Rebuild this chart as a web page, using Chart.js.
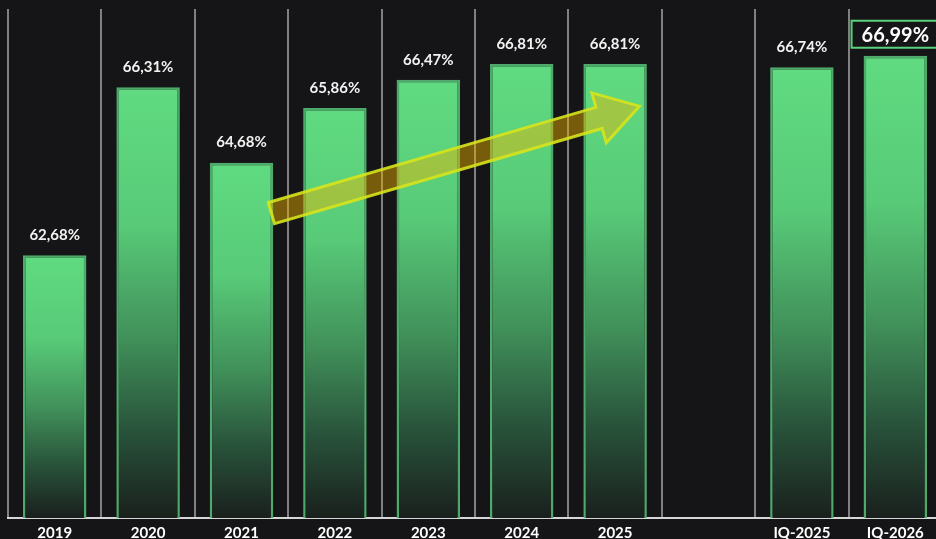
<!DOCTYPE html>
<html>
<head>
<meta charset="utf-8">
<script src="https://cdn.jsdelivr.net/npm/chart.js@4"></script>
<style>
  html, body { margin: 0; padding: 0; background: #151517; overflow: hidden; }
  #wrap { position: relative; width: 942px; height: 539px; }
</style>
</head>
<body>
<div id="wrap"><canvas id="chart"></canvas></div>
<script>
// Periods on the x axis (an empty slot separates the yearly and quarterly groups)
const categories = ['2019', '2020', '2021', '2022', '2023', '2024', '2025', '', 'IQ-2025', 'IQ-2026'];
// Share per period, in percent
const shares = [62.68, 66.31, 64.68, 65.86, 66.47, 66.81, 66.81, null, 66.74, 66.99];
// Period whose label gets a framed callout
const highlightIndex = 9;
// Value range of the hidden y axis
const yRange = [57, 68];
// Trend arrow: [category position, value] of its tail and tip
const trendTail = [2.32, 63.59];
const trendTip = [6.26, 65.90];

const FONT = 'Lato, "Open Sans", sans-serif';
const fmt = v => v.toFixed(2).replace('.', ',') + '%';

function barGradient(ctx) {
  const chart = ctx.chart;
  const v = ctx.raw;
  if (!chart.chartArea || v == null) return '#5ed97f';
  const y = chart.scales.y;
  const top = y.getPixelForValue(v);
  const bottom = y.getPixelForValue(yRange[0]);
  const g = chart.ctx.createLinearGradient(0, top, 0, bottom);
  g.addColorStop(0, '#60db81');
  g.addColorStop(0.32, '#58ca78');
  g.addColorStop(0.58, '#41915a');
  g.addColorStop(0.8, '#28523a');
  g.addColorStop(1, '#1a201d');
  return g;
}

// Semi-transparent trend arrow over the bars
const trendArrow = {
  id: 'trendArrow',
  afterDatasetsDraw(chart) {
    const { ctx, scales: { x, y } } = chart;
    const tx = x.getPixelForValue(trendTail[0]), ty = y.getPixelForValue(trendTail[1]);
    const px = x.getPixelForValue(trendTip[0]), py = y.getPixelForValue(trendTip[1]);
    const len = Math.hypot(px - tx, py - ty);
    const ux = (px - tx) / len, uy = (py - ty) / len;
    const nx = uy, ny = -ux;
    const shaftHalf = 11, headHalf = 26, headLen = 42;
    const pt = (along, side) => [tx + ux * along + nx * side, ty + uy * along + ny * side];
    const pts = [
      pt(0, shaftHalf),
      pt(len - headLen, shaftHalf),
      pt(len - headLen, headHalf),
      pt(len, 0),
      pt(len - headLen, -headHalf),
      pt(len - headLen, -shaftHalf),
      pt(0, -shaftHalf)
    ];
    ctx.save();
    ctx.beginPath();
    pts.forEach((p, i) => i ? ctx.lineTo(p[0], p[1]) : ctx.moveTo(p[0], p[1]));
    ctx.closePath();
    ctx.fillStyle = 'rgba(240, 180, 0, 0.45)';
    ctx.fill();
    ctx.lineJoin = 'miter';
    ctx.lineWidth = 3;
    ctx.strokeStyle = 'rgba(214, 228, 28, 0.9)';
    ctx.stroke();
    ctx.restore();
  }
};

// Percentage labels above each bar
const valueLabels = {
  id: 'valueLabels',
  afterDatasetsDraw(chart) {
    const { ctx } = chart;
    const meta = chart.getDatasetMeta(0);
    ctx.save();
    ctx.textAlign = 'center';
    ctx.textBaseline = 'middle';
    meta.data.forEach((el, i) => {
      const v = shares[i];
      if (v == null) return;
      const text = fmt(v);
      if (i === highlightIndex) {
        ctx.font = 'bold 20px ' + FONT;
        const w = ctx.measureText(text).width + 20;
        const h = 27;
        const cy = el.y - 21.5;
        ctx.fillStyle = '#151517';
        ctx.fillRect(el.x - w / 2, cy - h / 2, w, h);
        ctx.lineWidth = 2;
        ctx.strokeStyle = '#5ad17c';
        ctx.strokeRect(el.x - w / 2, cy - h / 2, w, h);
        ctx.fillStyle = '#ffffff';
        ctx.fillText(text, el.x, cy + 1);
      } else {
        ctx.font = 'bold 15px ' + FONT;
        ctx.fillStyle = '#f2f2f2';
        ctx.fillText(text, el.x, el.y - 20);
      }
    });
    ctx.restore();
  }
};

new Chart(document.getElementById('chart'), {
  type: 'bar',
  data: {
    labels: categories,
    datasets: [{
      data: shares,
      backgroundColor: barGradient,
      borderColor: '#4daa6b',
      borderWidth: 2.5,
      barPercentage: 0.68,
      categoryPercentage: 1
    }]
  },
  options: {
    responsive: true,
    maintainAspectRatio: false,
    animation: false,
    layout: { padding: { left: 8, top: 9, right: 0, bottom: -10 } },
    plugins: { legend: { display: false }, tooltip: { enabled: false } },
    scales: {
      x: {
        grid: { offset: true, color: '#808080', lineWidth: 2, drawTicks: false },
        border: { display: true, color: '#d6d6d6', width: 2 },
        ticks: {
          color: '#ffffff',
          padding: 8,
          maxRotation: 0,
          autoSkip: false,
          font: { family: FONT, size: 15, weight: 'bold', lineHeight: 1 }
        }
      },
      y: {
        display: false,
        min: yRange[0],
        max: yRange[1]
      }
    }
  },
  plugins: [trendArrow, valueLabels]
});
</script>
</body>
</html>
